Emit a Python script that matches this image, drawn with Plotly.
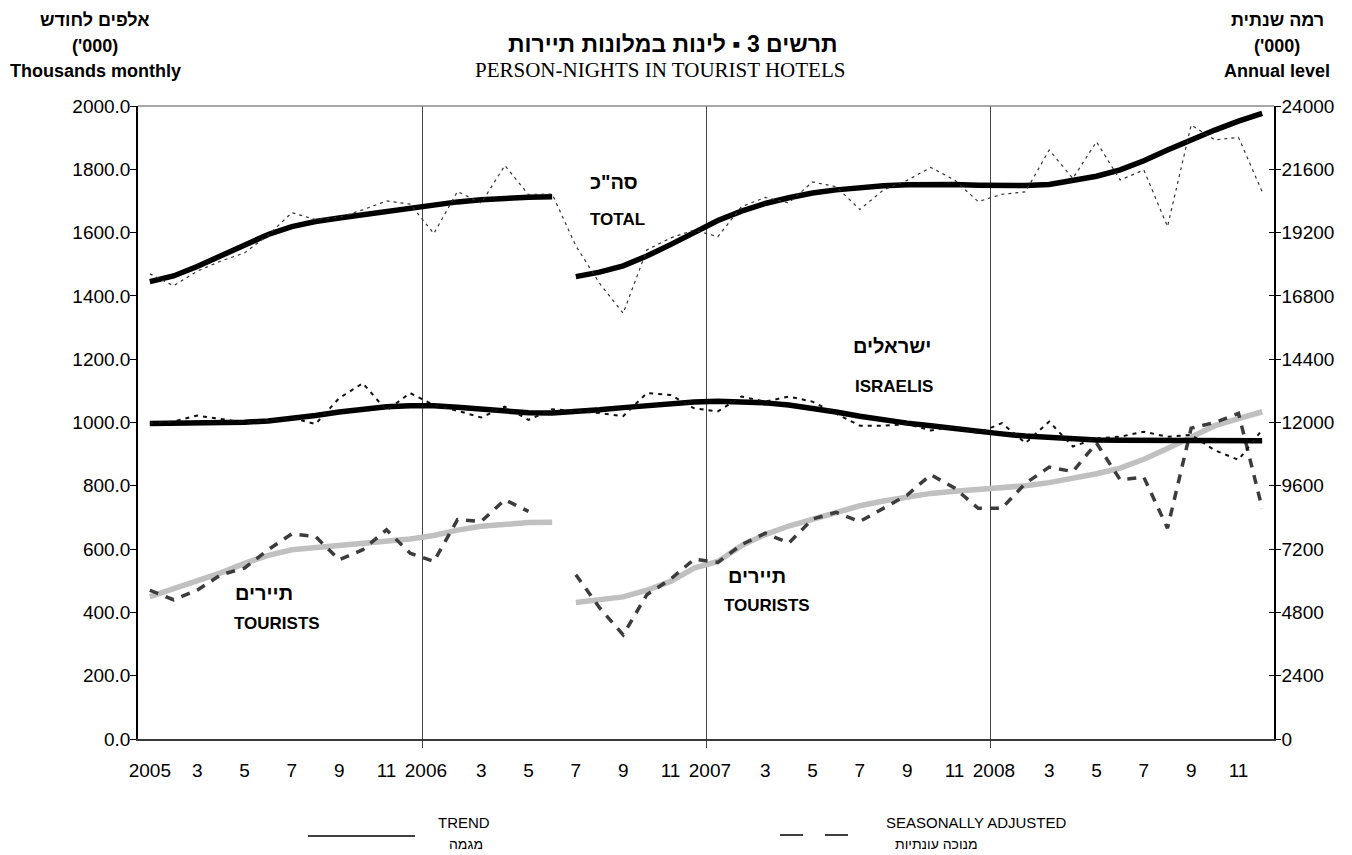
import plotly.graph_objects as go

# ---------------- data (thousands, monthly) ----------------
months = list(range(48))  # Jan 2005 .. Dec 2008
tick_pos = list(range(0, 48, 2))
NB = "\u00a0\u00a0\u00a0"
tick_text = ["2005", "3", "5", "7", "9", "11",
             "2006" + NB, "3", "5", "7", "9", "11",
             "2007" + NB, "3", "5", "7", "9", "11",
             "2008" + NB, "3", "5", "7", "9", "11"]

total_trend_a = [1445, 1463, 1493, 1527, 1561, 1594, 1619, 1635, 1646, 1657,
                 1667, 1677, 1688, 1697, 1704, 1709, 1712, 1713]
total_trend_b = [1461, 1475, 1495, 1526, 1562, 1600, 1638, 1668, 1692, 1710,
                 1725, 1735, 1742, 1748, 1751, 1753, 1752, 1750, 1748, 1749,
                 1752, 1763, 1778, 1798, 1827, 1861, 1893, 1924, 1952, 1977]
total_sa = [1470, 1432, 1478, 1510, 1536, 1592, 1663, 1641, 1648, 1672,
            1700, 1690, 1597, 1730, 1693, 1812, 1720, 1722, 1558, 1440,
            1345, 1545, 1583, 1608, 1587, 1682, 1711, 1694, 1760, 1745,
            1673, 1735, 1765, 1806, 1766, 1698, 1721, 1729, 1861, 1771,
            1887, 1766, 1798, 1619, 1940, 1893, 1901, 1729]

israelis_trend = [997, 997, 998, 999, 1001, 1005, 1012, 1022, 1033, 1042,
                  1050, 1053, 1053, 1048, 1042, 1036, 1031, 1030, 1034, 1040,
                  1047, 1054, 1061, 1065, 1067, 1066, 1062, 1055, 1045, 1033,
                  1020, 1008, 998, 990, 980, 972, 964, 957, 952, 948,
                  945, 944, 943, 943, 942, 942, 942, 942]
israelis_sa = [998, 1003, 1022, 1011, 1000, 1005, 1015, 995, 1077, 1124,
               1038, 1093, 1055, 1037, 1016, 1050, 1008, 1042, 1035, 1030,
               1020, 1093, 1087, 1045, 1035, 1082, 1066, 1082, 1066, 1029,
               990, 990, 995, 975, 987, 966, 998, 935, 1003, 924,
               950, 955, 971, 955, 961, 912, 882, 977]

tourists_trend_a = [450, 474, 498, 525, 555, 580, 598, 605, 610, 615,
                    622, 632, 643, 660, 672, 680, 684, 685]
tourists_trend_b = [431, 438, 449, 470, 498, 540, 561, 611, 646, 673,
                    695, 716, 737, 752, 766, 776, 783, 788, 794, 800,
                    810, 822, 838, 856, 884, 918, 953, 990, 1012, 1034]
tourists_sa = [470, 440, 470, 519, 540, 598, 648, 640, 566, 598,
               661, 587, 561, 693, 687, 756, 719, None, 519, 415,
               329, 456, 505, 568, 558, 614, 650, 619, 695, 716,
               687, 729, 771, 835, 793, 729, 729, 808, 859, 845,
               935, 819, 827, 666, 982, 1000, 1029, 729]

# ---------------- layout helpers ----------------
W, H = 1352, 855
ML, MR, MT, MB = 138, 78, 106, 116
PW, PH = W - ML - MR, H - MT - MB


def px(x):
    return (x - ML) / PW


def py(y):
    return (H - MB - y) / PH


SANS = "Liberation Sans, Arial, sans-serif"
SERIF = "Liberation Serif, Times New Roman, serif"

fig = go.Figure()

seg_a = months[:18]
seg_b = months[18:]

# tourists
fig.add_trace(go.Scatter(x=seg_a, y=tourists_trend_a, mode="lines",
                         line=dict(color="#c0c0c0", width=5.5), showlegend=False))
fig.add_trace(go.Scatter(x=seg_b, y=tourists_trend_b, mode="lines",
                         line=dict(color="#c0c0c0", width=5.5), showlegend=False))
fig.add_trace(go.Scatter(x=months, y=tourists_sa, mode="lines",
                         line=dict(color="#3c3c3c", width=3.5, dash="9px,8px"),
                         showlegend=False))
# israelis
fig.add_trace(go.Scatter(x=months, y=israelis_trend, mode="lines",
                         line=dict(color="#000000", width=5.5), showlegend=False))
fig.add_trace(go.Scatter(x=months, y=israelis_sa, mode="lines",
                         line=dict(color="#111111", width=2, dash="4px,5px"),
                         showlegend=False))
# total
fig.add_trace(go.Scatter(x=seg_a, y=total_trend_a, mode="lines",
                         line=dict(color="#000000", width=5.5), showlegend=False))
fig.add_trace(go.Scatter(x=seg_b, y=total_trend_b, mode="lines",
                         line=dict(color="#000000", width=5.5), showlegend=False))
fig.add_trace(go.Scatter(x=months, y=total_sa, mode="lines",
                         line=dict(color="#333333", width=1.2, dash="3px,4px"),
                         showlegend=False))

# placeholders so that the right-hand axes are drawn
fig.add_trace(go.Scatter(x=[None], y=[None], yaxis="y2", showlegend=False,
                         hoverinfo="skip"))
fig.add_trace(go.Scatter(x=[None], y=[None], yaxis="y3", showlegend=False,
                         hoverinfo="skip"))

fig.update_layout(
    width=W, height=H,
    margin=dict(l=ML, r=MR, t=MT, b=MB),
    paper_bgcolor="white", plot_bgcolor="white",
    font=dict(family=SANS, size=18, color="#000000"),
    showlegend=False,
    xaxis=dict(
        range=[-0.5, 47.5], tickmode="array", tickvals=tick_pos, ticktext=tick_text,
        ticks="", showgrid=False, zeroline=False,
        showline=True, linecolor="#3a3a3a", linewidth=2,
        tickfont=dict(family=SANS, size=19), ticklabelstandoff=13,
        minor=dict(tickmode="array", tickvals=[11.5, 23.5, 35.5], ticks="outside",
                   ticklen=7, tickcolor="#444444", tickwidth=1,
                   showgrid=True, gridcolor="#444444", gridwidth=1),
    ),
    yaxis=dict(
        range=[0, 2000], tickmode="linear", tick0=0, dtick=200, tickformat=".1f",
        ticks="outside", ticklen=6, tickcolor="#000000",
        showgrid=False, zeroline=False, showline=True, linecolor="#000000",
        linewidth=1.5, tickfont=dict(family=SANS, size=19), ticklabelstandoff=-4,
    ),
    yaxis2=dict(
        range=[0, 24000], tickmode="linear", tick0=0, dtick=2400, tickformat="d",
        overlaying="y", side="right", ticks="outside", ticklen=5,
        tickcolor="#000000", showgrid=False, zeroline=False, showline=True,
        linecolor="#000000", linewidth=1.5,
        tickfont=dict(family=SANS, size=19), ticklabelstandoff=-3,
    ),
    yaxis3=dict(
        range=[0, 24000], tickmode="linear", tick0=0, dtick=2400,
        overlaying="y", side="right", ticks="inside", ticklen=5,
        tickcolor="#000000", showgrid=False, zeroline=False, showline=False,
        showticklabels=False,
    ),
)

# top frame line
fig.add_shape(type="line", xref="paper", yref="paper", x0=0, x1=1, y0=1, y1=1,
              line=dict(color="#8a8a8a", width=1.5))

ann = []


def text(x, y, s, size, bold=False, family=SANS, color="#000000"):
    ann.append(dict(x=px(x), y=py(y), xref="paper", yref="paper",
                    text=("<b>%s</b>" % s) if bold else s, showarrow=False,
                    xanchor="center", yanchor="middle",
                    font=dict(family=family, size=size, color=color)))


# titles
text(672, 44, "תרשים 3 ▪ לינות במלונות תיירות", 23, bold=True)
text(660, 70, "PERSON-NIGHTS IN TOURIST HOTELS", 21, family=SERIF)

# axis titles
text(95, 20, "אלפים לחודש", 18, bold=True)
text(95, 46, "('000)", 18, bold=True)
text(95, 71, "Thousands monthly", 18, bold=True)
text(1277, 20, "רמה שנתית", 18, bold=True)
text(1277, 46, "('000)", 18, bold=True)
text(1277, 71, "Annual level", 18, bold=True)

# series labels
text(614, 182, 'סה"כ', 20, bold=True)
text(617, 219, "TOTAL", 17, bold=True)
text(892, 346, "ישראלים", 20, bold=True)
text(894, 386, "ISRAELIS", 17, bold=True)
text(264, 593, "תיירים", 20, bold=True)
text(277, 623, "TOURISTS", 17, bold=True)
text(757, 576, "תיירים", 20, bold=True)
text(767, 605, "TOURISTS", 17, bold=True)

# custom legend
text(464, 822, "TREND", 15)
text(466, 844, "מגמה", 14)
text(976, 822, "SEASONALLY ADJUSTED", 15)
text(936, 844, "מנוכה עונתיות", 14)
fig.update_layout(annotations=ann)

fig.add_shape(type="line", xref="paper", yref="paper",
              x0=px(308), x1=px(415), y0=py(836), y1=py(836),
              line=dict(color="#000000", width=1.5))
fig.add_shape(type="line", xref="paper", yref="paper",
              x0=px(780), x1=px(850), y0=py(835), y1=py(835),
              line=dict(color="#000000", width=1.5, dash="23px,22px"))

fig.write_html("out.html", config={"displayModeBar": False},
               post_script="document.body.style.margin='0px';")
